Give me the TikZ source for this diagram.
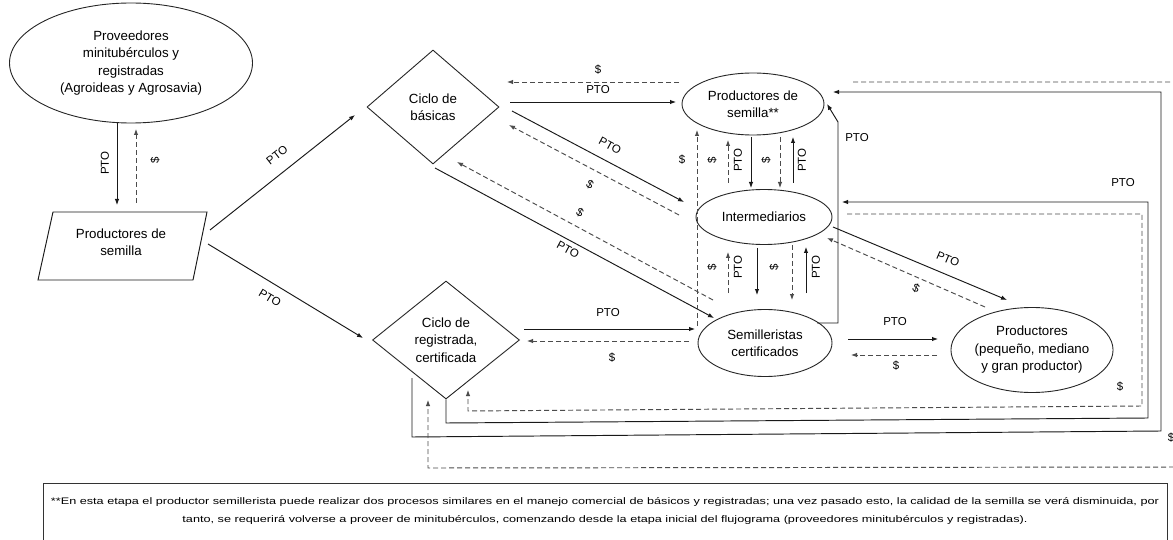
\documentclass[tikz,border=0pt]{standalone}
\usepackage{fontspec}
\setmainfont{Liberation Sans}
\usepackage{graphicx}
\usetikzlibrary{shapes.geometric,arrows.meta}
\begin{document}
\begin{tikzpicture}[x=1pt,y=-1pt]
\tikzset{
 ntxt/.style={font=\fontsize{13.3}{17.5}\selectfont, align=center, inner sep=0pt},
 ell/.style={ntxt, draw=black!85, line width=0.9pt, ellipse},
 dia/.style={ntxt, draw=black!85, line width=0.9pt, diamond},
 lbl/.style={font=\fontsize{11.5}{13}\selectfont, inner sep=0pt},
 tip/.style={-{Latex[length=6pt,width=4.5pt]}},
 sol/.style={draw=black!90, line width=0.95pt},
 dsh/.style={draw=black!70, line width=0.95pt, dash pattern=on 5pt off 3pt},
}
\useasboundingbox (0,0) rectangle (1173,540);
\fill[white] (0,0) rectangle (1173,540);

% ---------- nodes ----------
\node[ell, minimum width=243pt, minimum height=120pt] (prov) at (131,63) {Proveedores\\minitubérculos y\\registradas\\(Agroideas y Agrosavia)};
\draw[sol] (38,280) -- (53,212) -- (207,212) -- (193,280) -- cycle;
\node[ntxt] (ps) at (121,242) {Productores de\\semilla};
\node[dia, minimum width=132pt, minimum height=114pt] (bas) at (433,107) {Ciclo de\\básicas};
\node[dia, minimum width=147pt, minimum height=118pt] (reg) at (446,340) {Ciclo de\\registrada,\\certificada};
\node[ell, minimum width=142pt, minimum height=62pt] (psd) at (753,104) {Productores de\\semilla**};
\node[ell, minimum width=136pt, minimum height=55pt] (int) at (764,217) {Intermediarios};
\node[ell, minimum width=134pt, minimum height=67pt] (sem) at (765,343) {Semilleristas\\certificados};
\node[ell, minimum width=160pt, minimum height=85pt] (prod) at (1032,350) {Productores\\(pequeño, mediano\\y gran productor)};

% ---------- proveedores <-> productores de semilla ----------
\coordinate (pa) at (117,205);
\coordinate (pb) at (136,203);
\coordinate (pc) at (136,129);
\draw[sol,tip] (prov.south -| pa) -- (pa);
\draw[dsh,tip] (pb) -- (pc);
\node[lbl, rotate=90] (l1) at (105,163) {PTO};
\node[lbl, rotate=90] (l2) at (155,160) {\$};

% ---------- productores de semilla -> ciclos ----------
\coordinate (q1) at (210,230); \coordinate (q2) at (355,115);
\draw[sol,tip] (q1) -- (q2);
\node[lbl, rotate=38] (l3) at (277,155) {PTO};
\coordinate (q3) at (208,244); \coordinate (q4) at (363,338);
\draw[sol,tip] (q3) -- (q4);
\node[lbl, rotate=-31] (l4) at (270,298) {PTO};

% ---------- basicas <-> productores de semilla** ----------
\coordinate (b1) at (510,102); \coordinate (b2) at (676,102);
\draw[sol,tip] (b1) -- (b2);
\node[lbl] (l5) at (598,90) {PTO};
\coordinate (b3) at (679,82); \coordinate (b4) at (507,82);
\draw[dsh,tip] (b3) -- (b4);
\node[lbl] (l6) at (598,70) {\$};

% ---------- basicas <-> intermediarios ----------
\coordinate (b5) at (512,111); \coordinate (b6) at (684,202);
\draw[sol,tip] (b5) -- (b6);
\node[lbl, rotate=-28] (l7) at (610,146) {PTO};
\coordinate (b7) at (679,215); \coordinate (b8) at (509,125);
\draw[dsh,tip] (b7) -- (b8);
\node[lbl, rotate=-28] (l8) at (590,185) {\$};

% ---------- basicas <-> semilleristas ----------
\coordinate (b9) at (713,300); \coordinate (b10) at (457,162);
\draw[dsh,tip] (b9) -- (b10);
\node[lbl, rotate=-28] (l9) at (580,213) {\$};
\coordinate (b11) at (435,168); \coordinate (b12) at (714,318);
\draw[sol,tip] (b11) -- (b12);
\node[lbl, rotate=-28] (l10) at (568,250) {PTO};

% ---------- registrada <-> semilleristas ----------
\coordinate (r1) at (524,329); \coordinate (r2) at (695,329);
\draw[sol,tip] (r1) -- (r2);
\node[lbl] (l11) at (608,313) {PTO};
\coordinate (r3) at (689,341); \coordinate (r4) at (527,341);
\draw[dsh,tip] (r3) -- (r4);
\node[lbl] (l12) at (612,358) {\$};

% ---------- semilleristas <-> productores ----------
\coordinate (s1) at (848,339); \coordinate (s2) at (938,339);
\draw[sol,tip] (s1) -- (s2);
\node[lbl] (l13) at (895,322) {PTO};
\coordinate (s3) at (937,355); \coordinate (s4) at (851,355);
\draw[dsh,tip] (s3) -- (s4);
\node[lbl] (l14) at (896,366) {\$};

% ---------- intermediarios <-> productores ----------
\coordinate (i1) at (833,227); \coordinate (i2) at (1007,300);
\draw[sol,tip] (i1) -- (i2);
\node[lbl, rotate=-23] (l15) at (948,259) {PTO};
\coordinate (i3) at (985,307); \coordinate (i4) at (827,238);
\draw[dsh,tip] (i3) -- (i4);
\node[lbl, rotate=-24] (l16) at (916,288) {\$};

% ---------- verticals psd <-> int ----------
\draw[dsh,tip] (728,183) -- (728,140);
\draw[sol,tip] (751,137) -- (751,188);
\draw[dsh,tip] (780,137) -- (780,188);
\draw[sol,tip] (793,183) -- (793,137);
\node[lbl, rotate=90] (v1) at (712,160) {\$};
\node[lbl, rotate=90] (v2) at (738,160) {PTO};
\node[lbl, rotate=90] (v3) at (766,160) {\$};
\node[lbl, rotate=90] (v4) at (802,160) {PTO};

% ---------- verticals int <-> sem ----------
\draw[dsh,tip] (728,293) -- (728,252);
\draw[sol,tip] (757,248) -- (757,295);
\draw[dsh,tip] (792,245) -- (792,300);
\draw[sol,tip] (806,293) -- (806,247);
\node[lbl, rotate=90] (v5) at (712,267) {\$};
\node[lbl, rotate=90] (v6) at (738,267) {PTO};
\node[lbl, rotate=90] (v7) at (774,267) {\$};
\node[lbl, rotate=90] (v8) at (816,267) {PTO};

% ---------- semilleristas -> productores de semilla** ----------
\coordinate (d1) at (697,326); \coordinate (d2) at (697,130);
\draw[dsh,tip] (d1) -- (d2);
\node[lbl] (l17) at (682,160) {\$};
\coordinate (e1) at (817,323); \coordinate (e2) at (838,323);
\coordinate (e3) at (838,122); \coordinate (e4) at (827,104);
\draw[sol,tip] (e1) -- (e2) -- (e3) -- (e4);
\node[lbl] (l18) at (857,138) {PTO};

% ---------- outer loops ----------
\coordinate (o1) at (412,378); \coordinate (o2) at (412,437);
\coordinate (o3) at (1161,431); \coordinate (o4) at (1161,92);
\coordinate (o5) at (833,92);
\draw[sol,tip] (o1) -- (o2) -- (o3) -- (o4) -- (o5);

\coordinate (m1) at (853,82); \coordinate (m2) at (1185,82);
\coordinate (m3) at (1185,467); \coordinate (m4) at (428,468);
\coordinate (m5) at (428,400);
\draw[dsh,tip] (m1) -- (m2) -- (m3) -- (m4) -- (m5);

\coordinate (k2) at (446,423); \coordinate (k3) at (1148,418);
\coordinate (k4) at (1148,202); \coordinate (k5) at (842,202);
\draw[sol,tip] (reg.south) -- (k2) -- (k3) -- (k4) -- (k5);

\coordinate (h1) at (847,214); \coordinate (h2) at (1142,214);
\coordinate (h3) at (1142,406); \coordinate (h4) at (468,411);
\coordinate (h5) at (468,390);
\draw[dsh,tip] (h1) -- (h2) -- (h3) -- (h4) -- (h5);

\node[lbl] (l19) at (1123,183) {PTO};
\node[lbl] (l20) at (1120,387) {\$};
\node[lbl] (l21) at (1171,438) {\$};

% ---------- footnote ----------
\node[draw=black!80, line width=1pt, minimum width=1124pt, minimum height=90pt, anchor=north west, inner sep=0pt] (note) at (43,483) {};
\node[inner sep=0pt, font=\fontsize{9.5}{11}\selectfont] (n1) at (605,502) {\resizebox{1108pt}{\height}{**En esta etapa el productor semillerista puede realizar dos procesos similares en el manejo comercial de básicos y registradas; una vez pasado esto, la calidad de la semilla se verá disminuida, por}};
\node[inner sep=0pt, font=\fontsize{9.5}{11}\selectfont] (n2) at (605,520) {\resizebox{845pt}{\height}{tanto, se requerirá volverse a proveer de minitubérculos, comenzando desde la etapa inicial del flujograma (proveedores minitubérculos y registradas).}};
\end{tikzpicture}
\end{document}
